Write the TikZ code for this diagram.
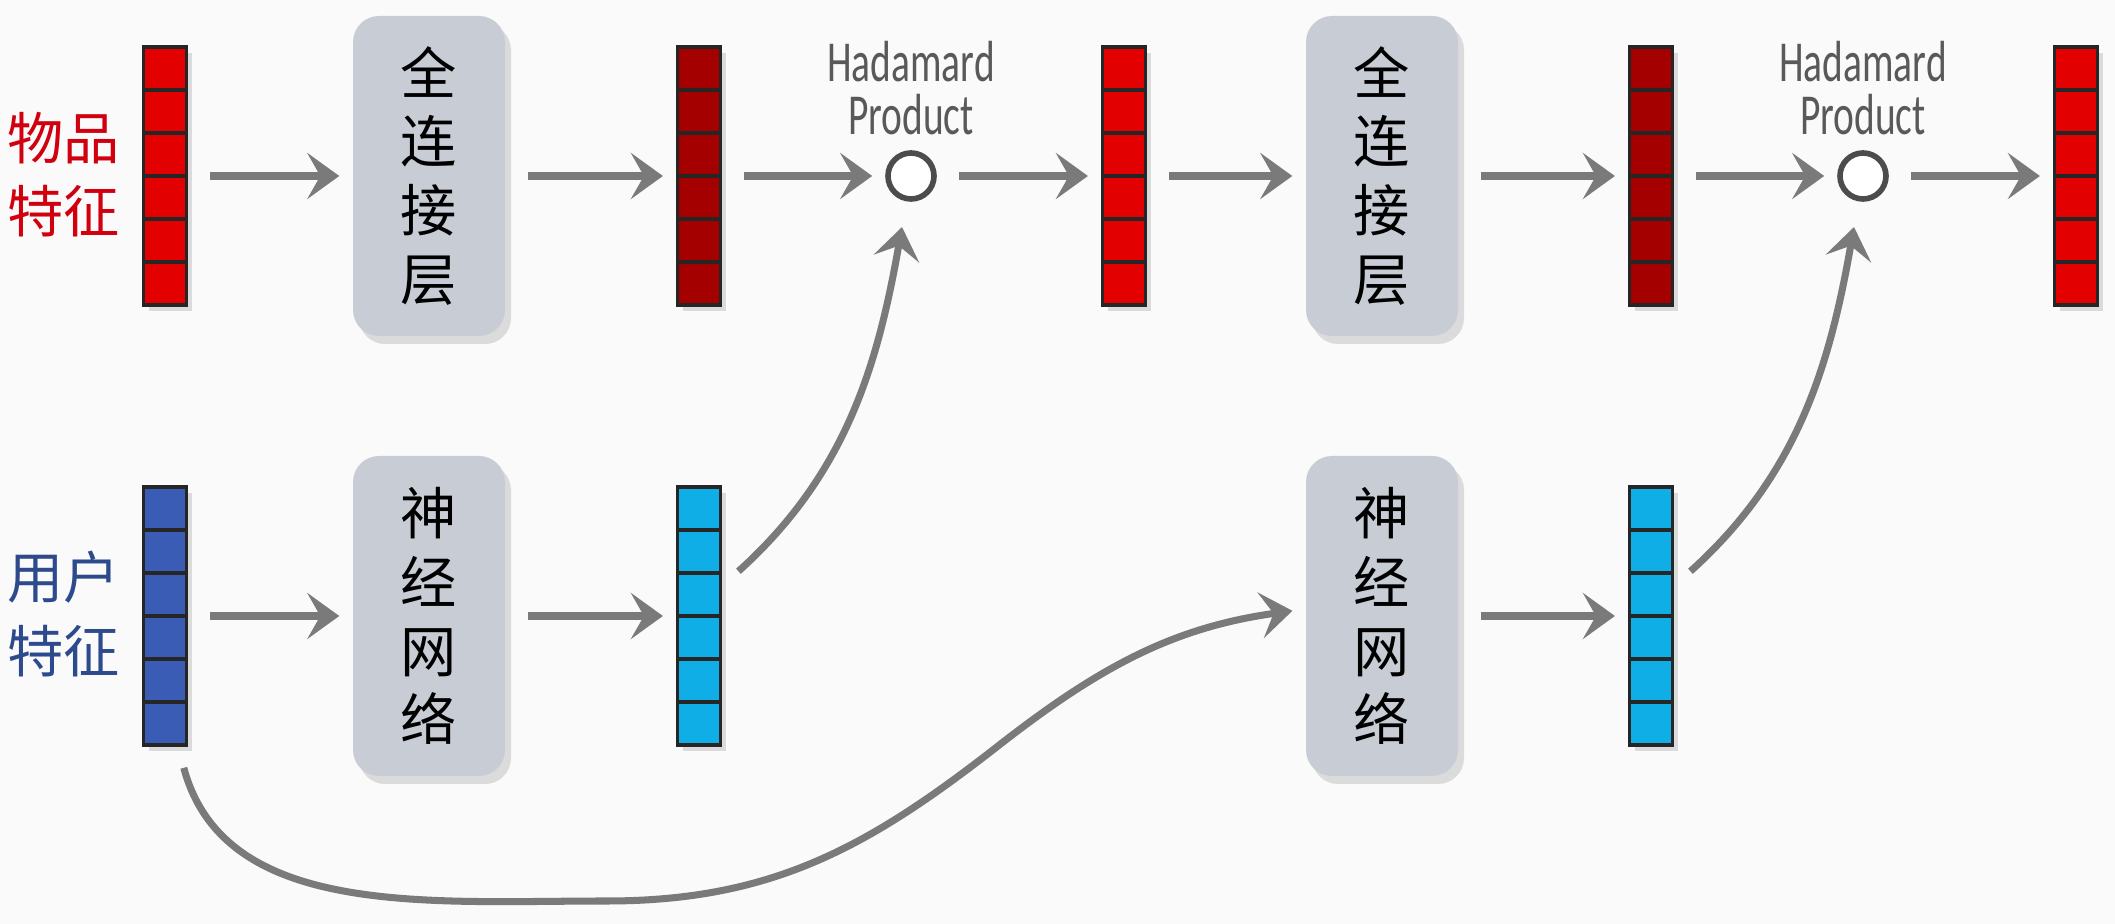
\documentclass[tikz,border=0pt]{standalone}
\usepackage{fontspec}
\newfontfamily\cjk{Noto Sans CJK SC}
\newfontfamily\hada[FakeStretch=0.68]{Carlito}
\usetikzlibrary{arrows.meta,shadows}
\definecolor{itemred}{HTML}{E20000}
\definecolor{itemdark}{HTML}{A50000}
\definecolor{userblue}{HTML}{3A5CB5}
\definecolor{usercyan}{HTML}{10AEE6}
\definecolor{labred}{HTML}{D0000F}
\definecolor{labblue}{HTML}{2D4A8C}
\definecolor{boxgray}{HTML}{C8CDD5}
\definecolor{flowgray}{HTML}{7A7A7A}
\definecolor{bgcol}{HTML}{FAFAFA}
\tikzset{
  vec/.style={draw=black!85, line width=0.9pt, inner sep=0pt, minimum width=4.3mm, minimum height=25.8mm,
    drop shadow={opacity=0.25, shadow xshift=0.5mm, shadow yshift=-0.6mm},
    path picture={\foreach \k in {1,...,5}
      \draw[black!85, line width=0.9pt] ([yshift=-\k*4.3mm]path picture bounding box.north west)
        -- ([yshift=-\k*4.3mm]path picture bounding box.north east);}},
  layer/.style={rounded corners=2.6mm, fill=boxgray, inner sep=0pt, minimum width=15.2mm, minimum height=32mm,
    align=center, font=\cjk\fontsize{16}{19.6}\selectfont,
    drop shadow={opacity=0.25, shadow xshift=0.6mm, shadow yshift=-0.8mm}},
  flow/.style={draw=flowgray, line width=2pt, -{Stealth[length=3.2mm, width=4.6mm, inset=1.3mm]},
    shorten <=2.2mm, shorten >=1.3mm},
  hp/.style={circle, draw=black!70, line width=1.6pt, minimum size=4.6mm, inner sep=0pt, fill=white},
  hptext/.style={align=center, text=black!65, font=\hada\fontsize{16.5}{15}\selectfont},
  side/.style={align=center, font=\cjk\fontsize{16}{20.8}\selectfont}
}
\begin{document}
\begin{tikzpicture}
\fill[bgcol] (0,0) rectangle (21.15,9.24);
\useasboundingbox (0,0) rectangle (21.15,9.24);

% item tower
\node[side, text=labred] (itemlab) at (0.64,7.49) {物品\\特征};
\node[vec, fill=itemred] (i0) at (1.65,7.48) {};
\node[layer] (f1) at (4.29,7.48) {全\\连\\接\\层};
\node[vec, fill=itemdark] (i1) at (6.99,7.48) {};
\node[hp] (h1) at (9.11,7.48) {};
\node[hptext] (ht1) at (9.11,8.36) {Hadamard\\Product};
\node[vec, fill=itemred] (i2) at (11.24,7.48) {};
\node[layer] (f2) at (13.82,7.48) {全\\连\\接\\层};
\node[vec, fill=itemdark] (i3) at (16.51,7.48) {};
\node[hp] (h2) at (18.63,7.48) {};
\node[hptext] (ht2) at (18.63,8.36) {Hadamard\\Product};
\node[vec, fill=itemred] (i4) at (20.76,7.48) {};

% user tower
\node[side, text=labblue] (userlab) at (0.64,3.10) {用户\\特征};
\node[vec, fill=userblue] (u0) at (1.65,3.08) {};
\node[layer] (n1) at (4.29,3.08) {神\\经\\网\\络};
\node[vec, fill=usercyan] (u1) at (6.99,3.08) {};
\node[layer] (n2) at (13.82,3.08) {神\\经\\网\\络};
\node[vec, fill=usercyan] (u2) at (16.51,3.08) {};

\coordinate (low) at (6.07,0.23);
\coordinate (bend) at (9.98,1.78);

\foreach \a/\b in {i0/f1,f1/i1,i1/h1,h1/i2,i2/f2,f2/i3,i3/h2,h2/i4,u0/n1,n1/u1,n2/u2}
  \draw[flow] (\a) -- (\b);

\draw[flow, shorten >=2.6mm] ([yshift=3mm]u1.east) to[out=42,in=-100] (h1);
\draw[flow, shorten >=2.6mm] ([yshift=3mm]u2.east) to[out=42,in=-100] (h2);
\draw[flow] ([xshift=-1mm]u0.south east) to[out=-75,in=180] (low)
  to[out=0,in=218] (bend) to[out=38,in=188] ([yshift=0.7mm]n2.west);
\end{tikzpicture}
\end{document}
